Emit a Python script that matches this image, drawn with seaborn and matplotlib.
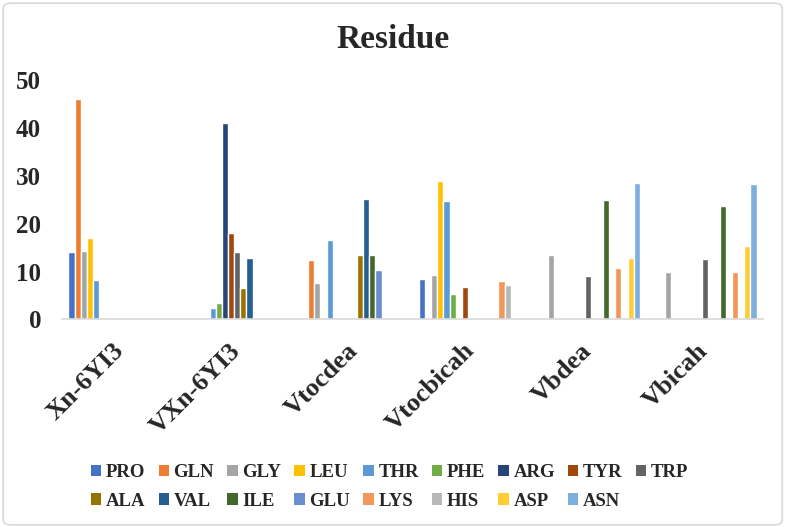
import numpy as np
import pandas as pd
import matplotlib
matplotlib.use('Agg')
import matplotlib.pyplot as plt
import seaborn as sns
from matplotlib.patches import Patch, FancyBboxPatch

# categories on the x axis
groups = ['Xn-6YI3', 'VXn-6YI3', 'Vtocdea', 'Vtocbicah', 'Vbdea', 'Vbicah']

# one list per residue (nan = no bar)
nan = np.nan
PRO = [14.0, nan, nan, 8.5, nan, nan]
GLN = [46.0, nan, 12.5, nan, nan, nan]
GLY = [14.2, nan, 7.5, 9.3, 13.5, 9.8]
LEU = [17.0, nan, nan, 29.0, nan, nan]
THR = [8.2, 2.3, 16.6, 24.8, nan, nan]
PHE = [nan, 3.4, nan, 5.2, nan, nan]
ARG = [nan, 41.0, nan, nan, nan, nan]
TYR = [nan, 18.0, nan, 6.8, nan, nan]
TRP = [nan, 14.0, nan, nan, 9.0, 12.7]
ALA = [nan, 6.5, 13.5, nan, nan, nan]
VAL = [nan, 12.8, 25.1, nan, nan, nan]
ILE = [nan, nan, 13.5, nan, 24.9, 23.7]
GLU = [nan, nan, 10.4, nan, nan, nan]
LYS = [nan, nan, nan, 8.1, 10.8, 9.8]
HIS = [nan, nan, nan, 7.1, nan, nan]
ASP = [nan, nan, nan, nan, 12.8, 15.3]
ASN = [nan, nan, nan, nan, 28.6, 28.2]

residues = ['PRO', 'GLN', 'GLY', 'LEU', 'THR', 'PHE', 'ARG', 'TYR', 'TRP',
            'ALA', 'VAL', 'ILE', 'GLU', 'LYS', 'HIS', 'ASP', 'ASN']
series = [PRO, GLN, GLY, LEU, THR, PHE, ARG, TYR, TRP,
          ALA, VAL, ILE, GLU, LYS, HIS, ASP, ASN]

# excel office palette
colors = ['#4472C4', '#ED7D31', '#A5A5A5', '#FFC000', '#5B9BD5', '#70AD47',
          '#264478', '#9E480E', '#636363', '#997300', '#255E91', '#43682B',
          '#698ED0', '#F1975A', '#B7B7B7', '#FFCD33', '#7CAFDD']

rows = []
for name, vals in zip(residues, series):
    for g, v in zip(groups, vals):
        rows.append({'Group': g, 'Residue': name, 'Value': v})
df = pd.DataFrame(rows)

sns.set_style('white')
plt.rcParams['font.family'] = ['Liberation Serif', 'DejaVu Serif']
plt.rcParams['font.weight'] = 'bold'

fig = plt.figure(figsize=(7.87, 5.27), dpi=100)
ax = fig.add_axes([0.0788, 0.394, 0.8907, 0.454])

sns.barplot(data=df, x='Group', y='Value', hue='Residue',
            order=groups, hue_order=residues, palette=colors,
            saturation=1, width=0.89, errorbar=None, legend=False, ax=ax)

ax.set_ylim(0, 50)
ax.set_xlim(-0.5, 5.5)
ax.set_yticks([0, 10, 20, 30, 40, 50])
ax.set_xlabel('')
ax.set_ylabel('')
ax.tick_params(axis='y', length=0, pad=15, labelsize=18)
ax.tick_params(axis='x', length=0, pad=20, labelsize=19)
for lab in ax.get_yticklabels():
    lab.set_fontweight('bold')
for lab in ax.get_xticklabels():
    lab.set_rotation(45)
    lab.set_ha('right')
    lab.set_va('center')
    lab.set_rotation_mode('anchor')
    lab.set_fontweight('bold')

for s in ['top', 'right', 'left']:
    ax.spines[s].set_visible(False)
ax.spines['bottom'].set_color('#D9D9D9')
ax.spines['bottom'].set_linewidth(1.2)

fig.text(0.5, 0.925, 'Residue', ha='center', va='center',
         fontsize=24, fontweight='bold')

# legend, rows filled left to right like excel
handles = [Patch(facecolor=c, edgecolor='none') for c in colors]
order = []
for j in range(8):
    order += [j, j + 9]
order.append(8)
fig.legend([handles[i] for i in order], [residues[i] for i in order],
           ncol=9, loc='center', bbox_to_anchor=(0.495, 0.076),
           frameon=False, prop={'size': 13.5, 'weight': 'bold'},
           handlelength=0.55, handleheight=0.55, handletextpad=0.25,
           columnspacing=0.7, labelspacing=0.6)

# chart border
border = FancyBboxPatch((0.004, 0.004), 0.99, 0.99,
                        boxstyle='round,pad=0,rounding_size=0.01',
                        transform=fig.transFigure, facecolor='none',
                        edgecolor='#D9D9D9', linewidth=1.2)
fig.patches.append(border)

fig.savefig('out.png', dpi=100)
